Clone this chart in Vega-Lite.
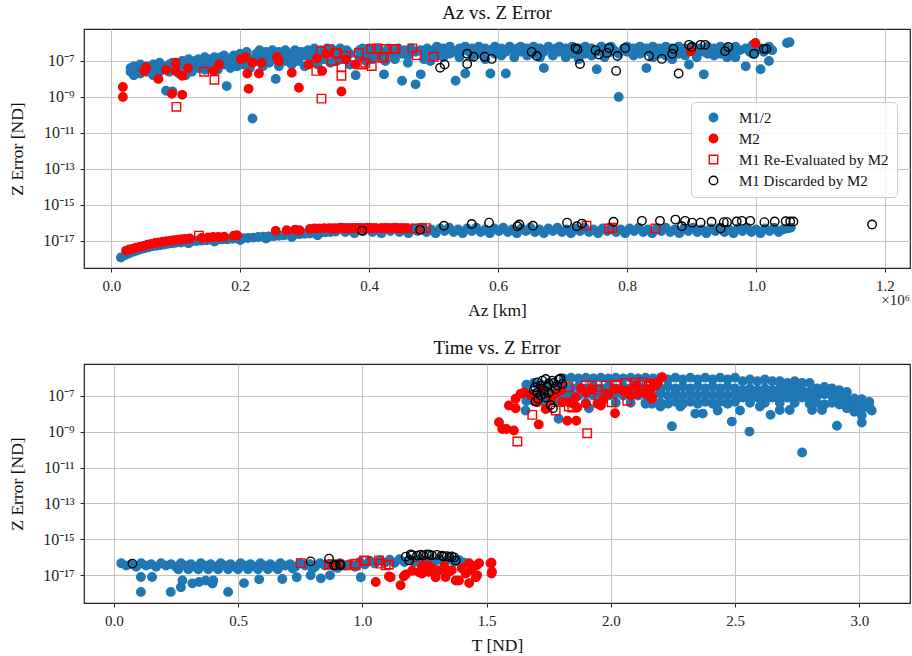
{
"$schema": "https://vega.github.io/schema/vega-lite/v6.json",
"background": "white",
"padding": {"left": 8, "top": 3, "right": 1, "bottom": 2},
"bounds": "flush",
"spacing": 96,
"config": {
  "font": "Liberation Serif",
  "view": {"stroke": "#222", "strokeWidth": 1.2},
  "axis": {"grid": true, "gridColor": "#c4c4c4", "gridWidth": 1, "domain": false, "tickColor": "#222", "tickSize": 4, "tickWidth": 1, "labelFont": "Liberation Serif", "labelFontSize": 15, "labelColor": "#222", "labelPadding": 6, "titleFont": "Liberation Serif", "titleFontSize": 17.5, "titleFontWeight": "normal", "titleColor": "#111", "titlePadding": 8},
  "axisY": {"labelFontSize": 16, "titlePadding": 16},
  "title": {"font": "Liberation Serif", "fontSize": 19, "fontWeight": "normal", "color": "#111", "offset": 6},
  "legend": {"orient": "none", "legendX": 607, "legendY": 73, "padding": 8, "fillColor": "rgba(255,255,255,0.85)", "strokeColor": "#cccccc", "cornerRadius": 4, "labelFont": "Liberation Serif", "labelFontSize": 15, "labelColor": "#111", "symbolOffset": 7, "labelOffset": 18, "rowPadding": 5, "symbolStrokeWidth": 1.4}
},
"resolve": {"scale": {"fill": "independent", "stroke": "independent", "shape": "independent", "size": "independent"}, "legend": {"fill": "independent", "stroke": "independent", "shape": "independent", "size": "independent"}},
"datasets": {
"az": [
{"s":"B","x":30000,"y":4e-8},{"s":"B","x":30000,"y":2.5e-8},{"s":"B","x":35000,"y":5e-8},{"s":"B","x":35000,"y":1.6e-8},{"s":"B","x":40000,"y":3.2e-8},{"s":"B","x":45000,"y":6.3e-8},{"s":"B","x":45000,"y":2e-8},{"s":"B","x":50000,"y":4e-8},{"s":"B","x":55000,"y":5e-8},{"s":"B","x":55000,"y":2.5e-8},{"s":"B","x":60000,"y":3.2e-8},{"s":"B","x":65000,"y":6.3e-8},{"s":"B","x":65000,"y":1.6e-8},{"s":"B","x":70000,"y":5e-8},{"s":"B","x":75000,"y":7.9e-8},{"s":"B","x":75000,"y":2.5e-8},{"s":"B","x":80000,"y":4e-8},{"s":"B","x":85000,"y":5e-8},{"s":"B","x":85000,"y":2.2e-9},{"s":"B","x":90000,"y":6.3e-8},{"s":"B","x":90000,"y":2.5e-8},{"s":"B","x":95000,"y":2e-9},{"s":"B","x":95000,"y":7.9e-8},{"s":"B","x":100000,"y":4e-8},{"s":"B","x":105000,"y":6.3e-8},{"s":"B","x":105000,"y":2e-8},{"s":"B","x":110000,"y":1e-7},{"s":"B","x":115000,"y":5e-8},{"s":"B","x":115000,"y":1.6e-8},{"s":"B","x":120000,"y":1.26e-7},{"s":"B","x":125000,"y":6.3e-8},{"s":"B","x":125000,"y":2.5e-8},{"s":"B","x":130000,"y":1e-7},{"s":"B","x":135000,"y":1.26e-7},{"s":"B","x":135000,"y":4e-8},{"s":"B","x":140000,"y":7.9e-8},{"s":"B","x":145000,"y":1.6e-7},{"s":"B","x":145000,"y":3.2e-8},{"s":"B","x":150000,"y":1e-7},{"s":"B","x":155000,"y":1.26e-7},{"s":"B","x":155000,"y":5e-8},{"s":"B","x":160000,"y":1.6e-7},{"s":"B","x":165000,"y":7.9e-8},{"s":"B","x":165000,"y":3.2e-8},{"s":"B","x":170000,"y":1.6e-7},{"s":"B","x":175000,"y":2e-7},{"s":"B","x":175000,"y":6.3e-8},{"s":"B","x":179000,"y":4e-9},{"s":"B","x":185000,"y":1.26e-7},{"s":"B","x":185000,"y":4e-8},{"s":"B","x":190000,"y":2e-7},{"s":"B","x":195000,"y":1e-7},{"s":"B","x":195000,"y":5e-8},{"s":"B","x":200000,"y":2.5e-7},{"s":"B","x":205000,"y":1.6e-7},{"s":"B","x":205000,"y":6.3e-8},{"s":"B","x":210000,"y":3.2e-7},{"s":"B","x":215000,"y":1.26e-7},{"s":"B","x":215000,"y":4e-8},{"s":"B","x":219000,"y":6.3e-11},{"s":"B","x":225000,"y":2.5e-7},{"s":"B","x":225000,"y":1e-7},{"s":"B","x":230000,"y":4e-7},{"s":"B","x":235000,"y":1.6e-7},{"s":"B","x":235000,"y":5e-8},{"s":"B","x":240000,"y":3.2e-7},{"s":"B","x":245000,"y":2e-7},{"s":"B","x":245000,"y":7.9e-8},{"s":"B","x":250000,"y":4e-7},{"s":"B","x":255000,"y":1e-8},{"s":"B","x":255000,"y":1.26e-7},{"s":"B","x":260000,"y":3.2e-7},{"s":"B","x":260000,"y":5e-8},{"s":"B","x":265000,"y":2e-7},{"s":"B","x":270000,"y":4e-7},{"s":"B","x":270000,"y":1e-7},{"s":"B","x":275000,"y":2.5e-7},{"s":"B","x":280000,"y":1.6e-7},{"s":"B","x":280000,"y":6.3e-8},{"s":"B","x":285000,"y":4e-7},{"s":"B","x":290000,"y":2.5e-7},{"s":"B","x":290000,"y":1e-7},{"s":"B","x":295000,"y":3.2e-7},{"s":"B","x":300000,"y":2e-7},{"s":"B","x":300000,"y":5e-8},{"s":"B","x":305000,"y":4e-7},{"s":"B","x":310000,"y":2.5e-7},{"s":"B","x":310000,"y":1e-7},{"s":"B","x":315000,"y":5e-7},{"s":"B","x":320000,"y":2e-7},{"s":"B","x":320000,"y":6.3e-8},{"s":"B","x":325000,"y":4e-7},{"s":"B","x":330000,"y":2.5e-7},{"s":"B","x":330000,"y":1.26e-7},{"s":"B","x":335000,"y":5e-7},{"s":"B","x":340000,"y":3.2e-7},{"s":"B","x":340000,"y":7.9e-8},{"s":"B","x":345000,"y":4e-7},{"s":"B","x":350000,"y":2e-7},{"s":"B","x":350000,"y":1e-7},{"s":"B","x":355000,"y":5e-7},{"s":"B","x":360000,"y":3.2e-7},{"s":"B","x":360000,"y":1.26e-7},{"s":"B","x":365000,"y":4e-7},{"s":"B","x":370000,"y":2.5e-7},{"s":"B","x":370000,"y":6.3e-8},{"s":"B","x":379000,"y":1.6e-8},{"s":"B","x":385000,"y":4e-7},{"s":"B","x":385000,"y":1.6e-7},{"s":"B","x":390000,"y":5e-7},{"s":"B","x":395000,"y":2.5e-7},{"s":"B","x":395000,"y":1e-7},{"s":"B","x":400000,"y":5e-7},{"s":"B","x":405000,"y":3.2e-7},{"s":"B","x":405000,"y":1.26e-7},{"s":"B","x":410000,"y":4e-7},{"s":"B","x":415000,"y":5e-7},{"s":"B","x":415000,"y":2e-7},{"s":"B","x":423000,"y":1.8e-8},{"s":"B","x":425000,"y":3.2e-7},{"s":"B","x":425000,"y":1e-7},{"s":"B","x":430000,"y":5e-7},{"s":"B","x":435000,"y":2.5e-7},{"s":"B","x":440000,"y":4e-7},{"s":"B","x":440000,"y":1.26e-7},{"s":"B","x":445000,"y":5e-7},{"s":"B","x":451000,"y":7.9e-9},{"s":"B","x":451000,"y":2.5e-7},{"s":"B","x":455000,"y":4e-7},{"s":"B","x":460000,"y":2e-7},{"s":"B","x":460000,"y":7.9e-8},{"s":"B","x":465000,"y":5e-7},{"s":"B","x":472000,"y":5e-9},{"s":"B","x":472000,"y":3.2e-7},{"s":"B","x":480000,"y":1.8e-8},{"s":"B","x":480000,"y":4e-7},{"s":"B","x":485000,"y":2.5e-7},{"s":"B","x":485000,"y":1.26e-7},{"s":"B","x":490000,"y":5e-7},{"s":"B","x":495000,"y":3.2e-7},{"s":"B","x":495000,"y":1e-7},{"s":"B","x":500000,"y":4e-7},{"s":"B","x":505000,"y":6.3e-7},{"s":"B","x":505000,"y":2e-7},{"s":"B","x":510000,"y":3.2e-7},{"s":"B","x":515000,"y":5e-7},{"s":"B","x":515000,"y":1.6e-7},{"s":"B","x":520000,"y":4e-7},{"s":"B","x":525000,"y":6.3e-7},{"s":"B","x":525000,"y":2.5e-7},{"s":"B","x":534000,"y":7.9e-9},{"s":"B","x":534000,"y":3.2e-7},{"s":"B","x":540000,"y":5e-7},{"s":"B","x":540000,"y":1.6e-7},{"s":"B","x":545000,"y":4e-7},{"s":"B","x":549000,"y":2e-8},{"s":"B","x":549000,"y":6.3e-7},{"s":"B","x":555000,"y":3.2e-7},{"s":"B","x":560000,"y":5e-7},{"s":"B","x":560000,"y":2e-7},{"s":"B","x":565000,"y":4e-7},{"s":"B","x":570000,"y":6.3e-7},{"s":"B","x":570000,"y":2.5e-7},{"s":"B","x":575000,"y":3.2e-7},{"s":"B","x":580000,"y":5e-7},{"s":"B","x":580000,"y":1.26e-7},{"s":"B","x":588000,"y":2e-8},{"s":"B","x":588000,"y":4e-7},{"s":"B","x":595000,"y":6.3e-7},{"s":"B","x":595000,"y":2.5e-7},{"s":"B","x":600000,"y":4e-7},{"s":"B","x":605000,"y":5e-7},{"s":"B","x":605000,"y":2e-7},{"s":"B","x":612000,"y":2e-8},{"s":"B","x":612000,"y":3.2e-7},{"s":"B","x":618000,"y":6.3e-7},{"s":"B","x":625000,"y":4e-7},{"s":"B","x":625000,"y":1.6e-7},{"s":"B","x":630000,"y":5e-7},{"s":"B","x":635000,"y":3.2e-7},{"s":"B","x":635000,"y":6.3e-7},{"s":"B","x":640000,"y":4e-7},{"s":"B","x":645000,"y":5e-7},{"s":"B","x":645000,"y":2e-7},{"s":"B","x":650000,"y":3.2e-7},{"s":"B","x":655000,"y":6.3e-7},{"s":"B","x":655000,"y":2.5e-7},{"s":"B","x":660000,"y":4e-7},{"s":"B","x":665000,"y":5e-7},{"s":"B","x":665000,"y":1.6e-7},{"s":"B","x":671000,"y":4e-8},{"s":"B","x":671000,"y":3.2e-7},{"s":"B","x":678000,"y":6.3e-7},{"s":"B","x":685000,"y":4e-7},{"s":"B","x":685000,"y":2e-7},{"s":"B","x":690000,"y":5e-7},{"s":"B","x":695000,"y":3.2e-7},{"s":"B","x":695000,"y":6.3e-7},{"s":"B","x":700000,"y":4e-7},{"s":"B","x":705000,"y":5e-7},{"s":"B","x":705000,"y":1.6e-7},{"s":"B","x":710000,"y":3.2e-7},{"s":"B","x":715000,"y":6.3e-7},{"s":"B","x":715000,"y":2.5e-7},{"s":"B","x":720000,"y":4e-7},{"s":"B","x":725000,"y":5e-7},{"s":"B","x":725000,"y":1.26e-7},{"s":"B","x":730000,"y":3.2e-7},{"s":"B","x":735000,"y":6.3e-7},{"s":"B","x":735000,"y":2.5e-7},{"s":"B","x":740000,"y":4e-7},{"s":"B","x":745000,"y":5e-7},{"s":"B","x":745000,"y":2e-7},{"s":"B","x":753000,"y":3.5e-8},{"s":"B","x":753000,"y":3.2e-7},{"s":"B","x":760000,"y":6.3e-7},{"s":"B","x":765000,"y":4e-7},{"s":"B","x":765000,"y":1.6e-7},{"s":"B","x":770000,"y":5e-7},{"s":"B","x":775000,"y":3.2e-7},{"s":"B","x":775000,"y":6.3e-7},{"s":"B","x":780000,"y":4e-7},{"s":"B","x":787000,"y":1e-9},{"s":"B","x":787000,"y":2.5e-7},{"s":"B","x":795000,"y":5e-7},{"s":"B","x":800000,"y":3.2e-7},{"s":"B","x":800000,"y":6.3e-7},{"s":"B","x":805000,"y":4e-7},{"s":"B","x":810000,"y":5e-7},{"s":"B","x":810000,"y":2e-7},{"s":"B","x":815000,"y":3.2e-7},{"s":"B","x":820000,"y":6.3e-7},{"s":"B","x":820000,"y":2.5e-7},{"s":"B","x":825000,"y":4e-7},{"s":"B","x":830000,"y":4e-8},{"s":"B","x":830000,"y":5e-7},{"s":"B","x":835000,"y":3.2e-7},{"s":"B","x":840000,"y":6.3e-7},{"s":"B","x":840000,"y":1.6e-7},{"s":"B","x":845000,"y":4e-7},{"s":"B","x":850000,"y":5e-7},{"s":"B","x":850000,"y":2.5e-7},{"s":"B","x":855000,"y":3.2e-7},{"s":"B","x":860000,"y":6.3e-7},{"s":"B","x":860000,"y":2e-7},{"s":"B","x":865000,"y":4e-7},{"s":"B","x":870000,"y":5e-7},{"s":"B","x":870000,"y":1.26e-7},{"s":"B","x":875000,"y":3.2e-7},{"s":"B","x":880000,"y":6.3e-7},{"s":"B","x":880000,"y":2.5e-7},{"s":"B","x":885000,"y":4e-7},{"s":"B","x":890000,"y":5e-7},{"s":"B","x":890000,"y":2e-7},{"s":"B","x":896000,"y":6.3e-8},{"s":"B","x":896000,"y":3.2e-7},{"s":"B","x":902000,"y":6.3e-7},{"s":"B","x":908000,"y":4e-7},{"s":"B","x":908000,"y":1.6e-7},{"s":"B","x":913000,"y":5e-7},{"s":"B","x":919000,"y":1.8e-8},{"s":"B","x":919000,"y":3.2e-7},{"s":"B","x":925000,"y":6.3e-7},{"s":"B","x":925000,"y":2.5e-7},{"s":"B","x":930000,"y":4e-7},{"s":"B","x":935000,"y":5e-7},{"s":"B","x":935000,"y":2e-7},{"s":"B","x":940000,"y":3.2e-7},{"s":"B","x":945000,"y":6.3e-7},{"s":"B","x":945000,"y":2.5e-7},{"s":"B","x":950000,"y":4e-7},{"s":"B","x":955000,"y":5e-7},{"s":"B","x":955000,"y":1.6e-7},{"s":"B","x":960000,"y":3.2e-7},{"s":"B","x":968000,"y":1.6e-7},{"s":"B","x":968000,"y":6.3e-7},{"s":"B","x":975000,"y":4e-7},{"s":"B","x":984000,"y":5e-8},{"s":"B","x":984000,"y":5e-7},{"s":"B","x":990000,"y":3.2e-7},{"s":"B","x":995000,"y":7.9e-7},{"s":"B","x":995000,"y":2.5e-7},{"s":"B","x":1000000,"y":4e-7},{"s":"B","x":1007000,"y":3.5e-8},{"s":"B","x":1007000,"y":5e-7},{"s":"B","x":1012000,"y":3.2e-7},{"s":"B","x":1020000,"y":1e-7},{"s":"B","x":1020000,"y":6.3e-7},{"s":"B","x":1025000,"y":4e-7},{"s":"B","x":1048000,"y":1e-6},{"s":"B","x":1052000,"y":1.1e-6},
{"s":"B","x":15000,"y":1.15e-18},{"s":"B","x":22000,"y":1.6e-18},{"s":"B","x":28000,"y":2e-18},{"s":"B","x":34000,"y":2.4e-18},{"s":"B","x":40000,"y":2.8e-18},{"s":"B","x":46000,"y":3.3e-18},{"s":"B","x":52000,"y":3.8e-18},{"s":"B","x":58000,"y":4.3e-18},{"s":"B","x":64000,"y":4.8e-18},{"s":"B","x":70000,"y":5.2e-18},{"s":"B","x":76000,"y":5.6e-18},{"s":"B","x":82000,"y":6e-18},{"s":"B","x":88000,"y":6.6e-18},{"s":"B","x":94000,"y":7.1e-18},{"s":"B","x":100000,"y":7.6e-18},{"s":"B","x":108000,"y":7.9e-18},{"s":"B","x":116000,"y":8.5e-18},{"s":"B","x":120000,"y":7.1e-18},{"s":"B","x":124000,"y":8.9e-18},{"s":"B","x":132000,"y":9.5e-18},{"s":"B","x":140000,"y":1e-17},{"s":"B","x":148000,"y":1.05e-17},{"s":"B","x":156000,"y":1.1e-17},{"s":"B","x":160000,"y":8.9e-18},{"s":"B","x":164000,"y":1.12e-17},{"s":"B","x":172000,"y":1.17e-17},{"s":"B","x":180000,"y":1.2e-17},{"s":"B","x":188000,"y":1.26e-17},{"s":"B","x":196000,"y":1.32e-17},{"s":"B","x":200000,"y":1.07e-17},{"s":"B","x":204000,"y":1.35e-17},{"s":"B","x":212000,"y":1.41e-17},{"s":"B","x":220000,"y":1.48e-17},{"s":"B","x":228000,"y":1.58e-17},{"s":"B","x":236000,"y":1.66e-17},{"s":"B","x":240000,"y":1.32e-17},{"s":"B","x":244000,"y":1.7e-17},{"s":"B","x":252000,"y":1.78e-17},{"s":"B","x":260000,"y":1.86e-17},{"s":"B","x":268000,"y":2e-17},{"s":"B","x":276000,"y":2.1e-17},{"s":"B","x":280000,"y":1.58e-17},{"s":"B","x":284000,"y":2.2e-17},{"s":"B","x":292000,"y":2.3e-17},{"s":"B","x":300000,"y":2.4e-17},{"s":"B","x":308000,"y":2.5e-17},{"s":"B","x":316000,"y":2.6e-17},{"s":"B","x":320000,"y":2e-17},{"s":"B","x":324000,"y":2.75e-17},{"s":"B","x":332000,"y":2.9e-17},{"s":"B","x":340000,"y":3e-17},{"s":"B","x":348000,"y":3.2e-17},
{"s":"B","x":356000,"y":5.3e-17},{"s":"B","x":363000,"y":3e-17},{"s":"B","x":370000,"y":4.2e-17},{"s":"B","x":377000,"y":2.6e-17},{"s":"B","x":384000,"y":4.8e-17},{"s":"B","x":391000,"y":3.4e-17},{"s":"B","x":398000,"y":5.3e-17},{"s":"B","x":405000,"y":3e-17},{"s":"B","x":412000,"y":4.2e-17},{"s":"B","x":419000,"y":2.6e-17},{"s":"B","x":426000,"y":4.8e-17},{"s":"B","x":433000,"y":3.4e-17},{"s":"B","x":440000,"y":5.3e-17},{"s":"B","x":447000,"y":3e-17},{"s":"B","x":454000,"y":4.2e-17},{"s":"B","x":461000,"y":2.6e-17},{"s":"B","x":468000,"y":4.8e-17},{"s":"B","x":475000,"y":3.4e-17},{"s":"B","x":482000,"y":5.3e-17},{"s":"B","x":489000,"y":3e-17},{"s":"B","x":496000,"y":4.2e-17},{"s":"B","x":503000,"y":2.6e-17},{"s":"B","x":510000,"y":4.8e-17},{"s":"B","x":517000,"y":3.4e-17},{"s":"B","x":524000,"y":5.3e-17},{"s":"B","x":531000,"y":3e-17},{"s":"B","x":538000,"y":4.2e-17},{"s":"B","x":545000,"y":2.6e-17},{"s":"B","x":552000,"y":4.8e-17},{"s":"B","x":559000,"y":3.4e-17},{"s":"B","x":566000,"y":5.3e-17},{"s":"B","x":573000,"y":3e-17},{"s":"B","x":580000,"y":4.2e-17},{"s":"B","x":587000,"y":2.6e-17},{"s":"B","x":594000,"y":4.8e-17},{"s":"B","x":601000,"y":3.4e-17},{"s":"B","x":608000,"y":5.3e-17},{"s":"B","x":615000,"y":3e-17},{"s":"B","x":622000,"y":4.2e-17},{"s":"B","x":629000,"y":2.6e-17},{"s":"B","x":636000,"y":4.8e-17},{"s":"B","x":643000,"y":3.4e-17},{"s":"B","x":650000,"y":5.3e-17},{"s":"B","x":657000,"y":3e-17},{"s":"B","x":664000,"y":4.2e-17},{"s":"B","x":671000,"y":2.6e-17},{"s":"B","x":678000,"y":4.8e-17},{"s":"B","x":685000,"y":3.4e-17},{"s":"B","x":692000,"y":5.3e-17},{"s":"B","x":699000,"y":3e-17},{"s":"B","x":706000,"y":4.2e-17},{"s":"B","x":713000,"y":2.6e-17},{"s":"B","x":720000,"y":4.8e-17},{"s":"B","x":727000,"y":3.4e-17},{"s":"B","x":734000,"y":5.3e-17},{"s":"B","x":741000,"y":3e-17},{"s":"B","x":748000,"y":4.2e-17},{"s":"B","x":755000,"y":2.6e-17},{"s":"B","x":762000,"y":4.8e-17},{"s":"B","x":769000,"y":3.4e-17},{"s":"B","x":776000,"y":5.3e-17},{"s":"B","x":783000,"y":3e-17},{"s":"B","x":790000,"y":4.2e-17},{"s":"B","x":797000,"y":2.6e-17},{"s":"B","x":804000,"y":4.8e-17},{"s":"B","x":811000,"y":3.4e-17},{"s":"B","x":818000,"y":5.3e-17},{"s":"B","x":825000,"y":3e-17},{"s":"B","x":832000,"y":4.2e-17},{"s":"B","x":839000,"y":2.6e-17},{"s":"B","x":846000,"y":4.8e-17},{"s":"B","x":853000,"y":3.4e-17},{"s":"B","x":860000,"y":5.3e-17},{"s":"B","x":867000,"y":3e-17},{"s":"B","x":874000,"y":4.2e-17},{"s":"B","x":881000,"y":2.6e-17},{"s":"B","x":888000,"y":4.8e-17},{"s":"B","x":895000,"y":3.4e-17},{"s":"B","x":902000,"y":5.3e-17},{"s":"B","x":909000,"y":3e-17},{"s":"B","x":916000,"y":4.2e-17},{"s":"B","x":923000,"y":2.6e-17},{"s":"B","x":930000,"y":4.8e-17},{"s":"B","x":937000,"y":3.4e-17},{"s":"B","x":944000,"y":5.3e-17},{"s":"B","x":951000,"y":3e-17},{"s":"B","x":958000,"y":4.2e-17},{"s":"B","x":965000,"y":2.6e-17},{"s":"B","x":972000,"y":4.8e-17},{"s":"B","x":979000,"y":3.4e-17},{"s":"B","x":986000,"y":5.3e-17},{"s":"B","x":993000,"y":3e-17},{"s":"B","x":1000000,"y":4.2e-17},{"s":"B","x":1007000,"y":2.6e-17},{"s":"B","x":1014000,"y":4.8e-17},{"s":"B","x":1021000,"y":3.4e-17},{"s":"B","x":1028000,"y":5.3e-17},{"s":"B","x":1035000,"y":3e-17},{"s":"B","x":1042000,"y":4.2e-17},{"s":"B","x":1049000,"y":4.8e-17},{"s":"B","x":1054000,"y":5.3e-17},
{"s":"R","x":18000,"y":3.6e-9},{"s":"R","x":18000,"y":1e-9},{"s":"R","x":54000,"y":4.3e-8},{"s":"R","x":51000,"y":2.8e-8},{"s":"R","x":73000,"y":1e-8},{"s":"R","x":85000,"y":3.2e-8},{"s":"R","x":100000,"y":7.9e-8},{"s":"R","x":100000,"y":2.8e-8},{"s":"R","x":94000,"y":1.5e-9},{"s":"R","x":110000,"y":1.3e-9},{"s":"R","x":110000,"y":1.5e-8},{"s":"R","x":119000,"y":4e-8},{"s":"R","x":159000,"y":2.8e-8},{"s":"R","x":167000,"y":6.3e-8},{"s":"R","x":201000,"y":1.26e-7},{"s":"R","x":208000,"y":1.6e-7},{"s":"R","x":211000,"y":2e-8},{"s":"R","x":213000,"y":2.8e-9},{"s":"R","x":219000,"y":7.9e-8},{"s":"R","x":229000,"y":2e-8},{"s":"R","x":233000,"y":7.9e-8},{"s":"R","x":257000,"y":1.6e-7},{"s":"R","x":260000,"y":1e-7},{"s":"R","x":280000,"y":2.2e-8},{"s":"R","x":291000,"y":3.2e-9},{"s":"R","x":306000,"y":6.3e-8},{"s":"R","x":319000,"y":1.4e-7},{"s":"R","x":327000,"y":2.8e-8},{"s":"R","x":333000,"y":2.5e-7},{"s":"R","x":357000,"y":2e-9},{"s":"R","x":364000,"y":1.26e-7},{"s":"R","x":379000,"y":6.3e-8},{"s":"R","x":899000,"y":3.5e-7},{"s":"R","x":999000,"y":1e-6},
{"s":"R","x":23000,"y":2.8e-18},{"s":"R","x":28000,"y":3.2e-18},{"s":"R","x":33000,"y":3.5e-18},{"s":"R","x":38000,"y":4e-18},{"s":"R","x":44000,"y":4.5e-18},{"s":"R","x":50000,"y":5e-18},{"s":"R","x":56000,"y":6e-18},{"s":"R","x":62000,"y":6.6e-18},{"s":"R","x":68000,"y":7.4e-18},{"s":"R","x":74000,"y":7.9e-18},{"s":"R","x":80000,"y":8.7e-18},{"s":"R","x":86000,"y":9.3e-18},{"s":"R","x":92000,"y":1e-17},{"s":"R","x":98000,"y":1.07e-17},{"s":"R","x":104000,"y":1.12e-17},{"s":"R","x":110000,"y":1.2e-17},{"s":"R","x":116000,"y":1.26e-17},{"s":"R","x":122000,"y":1.32e-17},{"s":"R","x":140000,"y":1.41e-17},{"s":"R","x":150000,"y":1.5e-17},{"s":"R","x":158000,"y":1.58e-17},{"s":"R","x":166000,"y":1.58e-17},{"s":"R","x":175000,"y":1.66e-17},{"s":"R","x":190000,"y":1.9e-17},{"s":"R","x":195000,"y":2e-17},{"s":"R","x":255000,"y":3.5e-17},{"s":"R","x":272000,"y":3.8e-17},{"s":"R","x":285000,"y":4e-17},{"s":"R","x":292000,"y":3.8e-17},{"s":"R","x":308000,"y":4.5e-17},{"s":"R","x":315000,"y":4.7e-17},{"s":"R","x":322000,"y":4.8e-17},{"s":"R","x":330000,"y":5e-17},{"s":"R","x":338000,"y":5e-17},{"s":"R","x":346000,"y":4.8e-17},{"s":"R","x":354000,"y":5e-17},{"s":"R","x":362000,"y":5e-17},{"s":"R","x":370000,"y":4.8e-17},{"s":"R","x":378000,"y":5e-17},{"s":"R","x":386000,"y":5e-17},{"s":"R","x":394000,"y":4.8e-17},{"s":"R","x":402000,"y":5e-17},{"s":"R","x":410000,"y":5e-17},{"s":"R","x":418000,"y":5e-17},{"s":"R","x":426000,"y":5e-17},{"s":"R","x":434000,"y":4.8e-17},{"s":"R","x":442000,"y":5e-17},{"s":"R","x":450000,"y":5e-17},{"s":"R","x":458000,"y":4.8e-17},
{"s":"S","x":144000,"y":2.5e-8},{"s":"S","x":160000,"y":9e-9},{"s":"S","x":101000,"y":2.8e-10},{"s":"S","x":318000,"y":2.8e-8},{"s":"S","x":326000,"y":8e-10},{"s":"S","x":325000,"y":3.5e-7},{"s":"S","x":338000,"y":4.5e-7},{"s":"S","x":342000,"y":1e-7},{"s":"S","x":348000,"y":2.8e-7},{"s":"S","x":350000,"y":2.5e-7},{"s":"S","x":357000,"y":4.7e-8},{"s":"S","x":357000,"y":1.5e-8},{"s":"S","x":364000,"y":1.9e-7},{"s":"S","x":384000,"y":2.8e-7},{"s":"S","x":389000,"y":6.3e-8},{"s":"S","x":394000,"y":8e-8},{"s":"S","x":403000,"y":4.6e-7},{"s":"S","x":404000,"y":5.2e-8},{"s":"S","x":412000,"y":5e-7},{"s":"S","x":420000,"y":1.5e-7},{"s":"S","x":423000,"y":1.6e-7},{"s":"S","x":426000,"y":4.6e-7},{"s":"S","x":438000,"y":4.6e-7},{"s":"S","x":441000,"y":4.6e-7},{"s":"S","x":467000,"y":5e-7},{"s":"S","x":474000,"y":2.1e-7},{"s":"S","x":500000,"y":1.7e-7},
{"s":"S","x":136000,"y":1.9e-17},{"s":"S","x":348000,"y":4.7e-17},{"s":"S","x":360000,"y":5e-17},{"s":"S","x":372000,"y":5e-17},{"s":"S","x":380000,"y":5e-17},{"s":"S","x":390000,"y":5e-17},{"s":"S","x":405000,"y":5e-17},{"s":"S","x":425000,"y":5e-17},{"s":"S","x":440000,"y":5e-17},{"s":"S","x":455000,"y":5e-17},{"s":"S","x":472000,"y":4.7e-17},{"s":"S","x":482000,"y":5e-17},{"s":"S","x":488000,"y":5e-17},{"s":"S","x":737000,"y":6.8e-17},{"s":"S","x":772000,"y":4.7e-17},{"s":"S","x":777000,"y":5.2e-17},{"s":"S","x":844000,"y":4.7e-17},
{"s":"K","x":510000,"y":4.2e-8},{"s":"K","x":517000,"y":6.3e-8},{"s":"K","x":552000,"y":2.5e-7},{"s":"K","x":552000,"y":6.8e-8},{"s":"K","x":562000,"y":1.7e-7},{"s":"K","x":579000,"y":1.7e-7},{"s":"K","x":590000,"y":1.3e-7},{"s":"K","x":652000,"y":3.2e-7},{"s":"K","x":660000,"y":1.9e-7},{"s":"K","x":720000,"y":5.2e-7},{"s":"K","x":723000,"y":4.5e-7},{"s":"K","x":727000,"y":6.8e-8},{"s":"K","x":751000,"y":4e-7},{"s":"K","x":756000,"y":2.3e-7},{"s":"K","x":769000,"y":2.8e-7},{"s":"K","x":772000,"y":5.2e-7},{"s":"K","x":783000,"y":2.8e-8},{"s":"K","x":785000,"y":1.9e-7},{"s":"K","x":797000,"y":5.2e-7},{"s":"K","x":834000,"y":1.9e-7},{"s":"K","x":854000,"y":1.3e-7},{"s":"K","x":870000,"y":2.5e-7},{"s":"K","x":872000,"y":4.7e-7},{"s":"K","x":880000,"y":2e-8},{"s":"K","x":896000,"y":7.9e-7},{"s":"K","x":900000,"y":6e-7},{"s":"K","x":914000,"y":7.9e-7},{"s":"K","x":921000,"y":7.9e-7},{"s":"K","x":952000,"y":3.5e-7},{"s":"K","x":957000,"y":6e-7},{"s":"K","x":997000,"y":2.5e-7},{"s":"K","x":1012000,"y":4.7e-7},{"s":"K","x":1016000,"y":4.7e-7},
{"s":"K","x":389000,"y":3.6e-17},{"s":"K","x":479000,"y":4e-17},{"s":"K","x":516000,"y":6.8e-17},{"s":"K","x":559000,"y":8.5e-17},{"s":"K","x":586000,"y":1e-16},{"s":"K","x":630000,"y":6.3e-17},{"s":"K","x":633000,"y":7.9e-17},{"s":"K","x":654000,"y":6.8e-17},{"s":"K","x":707000,"y":1e-16},{"s":"K","x":722000,"y":6.3e-17},{"s":"K","x":730000,"y":8.9e-17},{"s":"K","x":779000,"y":1.12e-16},{"s":"K","x":823000,"y":1.26e-16},{"s":"K","x":851000,"y":1.26e-16},{"s":"K","x":875000,"y":1.48e-16},{"s":"K","x":885000,"y":6.3e-17},{"s":"K","x":890000,"y":1.26e-16},{"s":"K","x":901000,"y":1e-16},{"s":"K","x":914000,"y":1e-16},{"s":"K","x":931000,"y":1.12e-16},{"s":"K","x":945000,"y":4.7e-17},{"s":"K","x":950000,"y":1.07e-16},{"s":"K","x":955000,"y":1.07e-16},{"s":"K","x":970000,"y":1.17e-16},{"s":"K","x":978000,"y":1.26e-16},{"s":"K","x":991000,"y":1.26e-16},{"s":"K","x":1013000,"y":1.07e-16},{"s":"K","x":1029000,"y":1.17e-16},{"s":"K","x":1046000,"y":1.2e-16},{"s":"K","x":1053000,"y":1.17e-16},{"s":"K","x":1058000,"y":1.17e-16},{"s":"K","x":1180000,"y":7.9e-17}
],
"t": [
{"s":"B","x":0.03,"y":4.7e-17},{"s":"B","x":0.05,"y":3.5e-17},{"s":"B","x":0.07,"y":4.2e-17},{"s":"B","x":0.09,"y":3e-17},{"s":"B","x":0.11,"y":4.7e-17},{"s":"B","x":0.13,"y":3.5e-17},{"s":"B","x":0.15,"y":4.2e-17},{"s":"B","x":0.17,"y":3e-17},{"s":"B","x":0.19,"y":4.7e-17},{"s":"B","x":0.21,"y":3.5e-17},{"s":"B","x":0.23,"y":4.2e-17},{"s":"B","x":0.25,"y":3e-17},{"s":"B","x":0.27,"y":4.7e-17},{"s":"B","x":0.29,"y":3.5e-17},{"s":"B","x":0.31,"y":4.2e-17},{"s":"B","x":0.33,"y":3e-17},{"s":"B","x":0.35,"y":4.7e-17},{"s":"B","x":0.37,"y":3.5e-17},{"s":"B","x":0.39,"y":4.2e-17},{"s":"B","x":0.41,"y":3e-17},{"s":"B","x":0.43,"y":4.7e-17},{"s":"B","x":0.45,"y":3.5e-17},{"s":"B","x":0.47,"y":4.2e-17},{"s":"B","x":0.49,"y":3e-17},{"s":"B","x":0.51,"y":4.7e-17},{"s":"B","x":0.53,"y":3.5e-17},{"s":"B","x":0.55,"y":4.2e-17},{"s":"B","x":0.57,"y":3e-17},{"s":"B","x":0.59,"y":4.7e-17},{"s":"B","x":0.61,"y":3.5e-17},{"s":"B","x":0.63,"y":4.2e-17},{"s":"B","x":0.65,"y":3e-17},{"s":"B","x":0.67,"y":4.7e-17},{"s":"B","x":0.69,"y":3.5e-17},{"s":"B","x":0.71,"y":4.2e-17},{"s":"B","x":0.73,"y":3e-17},{"s":"B","x":0.75,"y":4.7e-17},{"s":"B","x":0.77,"y":3.5e-17},{"s":"B","x":0.79,"y":4.2e-17},{"s":"B","x":0.81,"y":3e-17},{"s":"B","x":0.83,"y":4.7e-17},{"s":"B","x":0.85,"y":3.5e-17},{"s":"B","x":0.87,"y":4.2e-17},{"s":"B","x":0.89,"y":3e-17},{"s":"B","x":0.91,"y":4.7e-17},{"s":"B","x":0.93,"y":3.5e-17},{"s":"B","x":0.95,"y":4.2e-17},{"s":"B","x":0.97,"y":3e-17},{"s":"B","x":0.99,"y":5.5e-17},{"s":"B","x":1.01,"y":4e-17},{"s":"B","x":1.03,"y":6.5e-17},{"s":"B","x":1.05,"y":4.5e-17},{"s":"B","x":1.07,"y":7e-17},{"s":"B","x":1.09,"y":5e-17},{"s":"B","x":1.11,"y":7.5e-17},{"s":"B","x":1.13,"y":5e-17},{"s":"B","x":1.15,"y":8e-17},{"s":"B","x":1.17,"y":5.5e-17},{"s":"B","x":1.19,"y":8e-17},{"s":"B","x":1.21,"y":5.5e-17},{"s":"B","x":1.23,"y":8e-17},{"s":"B","x":1.25,"y":5.5e-17},{"s":"B","x":1.27,"y":8e-17},{"s":"B","x":1.29,"y":5.5e-17},{"s":"B","x":1.31,"y":8e-17},{"s":"B","x":1.33,"y":5.5e-17},{"s":"B","x":1.35,"y":8e-17},{"s":"B","x":1.37,"y":5.5e-17},{"s":"B","x":1.39,"y":7e-17},{"s":"B","x":1.41,"y":5e-17},
{"s":"B","x":0.26,"y":2.2e-17},{"s":"B","x":0.3,"y":2.2e-17},{"s":"B","x":0.34,"y":2.2e-17},{"s":"B","x":0.38,"y":2.2e-17},{"s":"B","x":0.42,"y":2.2e-17},{"s":"B","x":0.46,"y":2.2e-17},{"s":"B","x":0.5,"y":2.2e-17},{"s":"B","x":0.54,"y":2.2e-17},{"s":"B","x":0.58,"y":2.2e-17},{"s":"B","x":0.62,"y":2.2e-17},{"s":"B","x":0.66,"y":2.2e-17},{"s":"B","x":0.72,"y":2.4e-17},{"s":"B","x":0.8,"y":2.4e-17},{"s":"B","x":0.9,"y":2.6e-17},
{"s":"B","x":0.109,"y":8.1e-18},{"s":"B","x":0.154,"y":8.1e-18},{"s":"B","x":0.109,"y":1.2e-18},{"s":"B","x":0.229,"y":1.2e-18},{"s":"B","x":0.46,"y":1.2e-18},{"s":"B","x":0.27,"y":2.2e-18},{"s":"B","x":0.276,"y":5.2e-18},{"s":"B","x":0.316,"y":3.6e-18},{"s":"B","x":0.343,"y":4.3e-18},{"s":"B","x":0.37,"y":5.2e-18},{"s":"B","x":0.397,"y":3.5e-18},{"s":"B","x":0.4,"y":5.2e-18},{"s":"B","x":0.524,"y":3.7e-18},{"s":"B","x":0.585,"y":6e-18},{"s":"B","x":0.678,"y":6.3e-18},{"s":"B","x":0.736,"y":7.9e-18},{"s":"B","x":0.792,"y":1e-17},{"s":"B","x":0.833,"y":6.8e-18},{"s":"B","x":0.87,"y":1e-17},{"s":"B","x":0.994,"y":7.9e-18},
{"s":"B","x":1.66,"y":4e-7},{"s":"B","x":1.66,"y":1.26e-7},{"s":"B","x":1.66,"y":5e-8},{"s":"B","x":1.69,"y":5e-7},{"s":"B","x":1.69,"y":1.26e-7},{"s":"B","x":1.69,"y":5e-8},{"s":"B","x":1.72,"y":4e-7},{"s":"B","x":1.72,"y":1.26e-7},{"s":"B","x":1.72,"y":5e-8},{"s":"B","x":1.75,"y":5e-7},{"s":"B","x":1.75,"y":1.26e-7},{"s":"B","x":1.75,"y":5e-8},{"s":"B","x":1.78,"y":4e-7},{"s":"B","x":1.78,"y":1.26e-7},{"s":"B","x":1.78,"y":5e-8},
{"s":"B","x":1.81,"y":8.9e-7},{"s":"B","x":1.81,"y":3.2e-7},{"s":"B","x":1.81,"y":1e-7},{"s":"B","x":1.84,"y":1e-6},{"s":"B","x":1.84,"y":2.5e-7},{"s":"B","x":1.84,"y":1.3e-7},{"s":"B","x":1.84,"y":4e-8},{"s":"B","x":1.87,"y":8.9e-7},{"s":"B","x":1.87,"y":3.2e-7},{"s":"B","x":1.87,"y":1e-7},{"s":"B","x":1.9,"y":1e-6},{"s":"B","x":1.9,"y":2.5e-7},{"s":"B","x":1.9,"y":1.3e-7},{"s":"B","x":1.9,"y":4e-8},{"s":"B","x":1.93,"y":8.9e-7},{"s":"B","x":1.93,"y":3.2e-7},{"s":"B","x":1.93,"y":1e-7},{"s":"B","x":1.96,"y":1e-6},{"s":"B","x":1.96,"y":2.5e-7},{"s":"B","x":1.96,"y":1.3e-7},{"s":"B","x":1.96,"y":4e-8},{"s":"B","x":1.99,"y":8.9e-7},{"s":"B","x":1.99,"y":3.2e-7},{"s":"B","x":1.99,"y":1e-7},{"s":"B","x":2.02,"y":1e-6},{"s":"B","x":2.02,"y":2.5e-7},{"s":"B","x":2.02,"y":1.3e-7},{"s":"B","x":2.02,"y":4e-8},{"s":"B","x":2.05,"y":8.9e-7},{"s":"B","x":2.05,"y":3.2e-7},{"s":"B","x":2.05,"y":1e-7},{"s":"B","x":2.08,"y":1e-6},{"s":"B","x":2.08,"y":2.5e-7},{"s":"B","x":2.08,"y":1.3e-7},{"s":"B","x":2.08,"y":4e-8},{"s":"B","x":2.11,"y":8.9e-7},{"s":"B","x":2.11,"y":3.2e-7},{"s":"B","x":2.11,"y":1e-7},{"s":"B","x":2.14,"y":1e-6},{"s":"B","x":2.14,"y":2.5e-7},{"s":"B","x":2.14,"y":1.3e-7},{"s":"B","x":2.14,"y":4e-8},{"s":"B","x":2.17,"y":8.9e-7},{"s":"B","x":2.17,"y":3.2e-7},{"s":"B","x":2.17,"y":1e-7},{"s":"B","x":2.2,"y":1e-6},{"s":"B","x":2.2,"y":2.5e-7},{"s":"B","x":2.2,"y":1.3e-7},{"s":"B","x":2.2,"y":4e-8},
{"s":"B","x":2.23,"y":7.9e-7},{"s":"B","x":2.23,"y":3.2e-7},{"s":"B","x":2.23,"y":1e-7},{"s":"B","x":2.23,"y":3.5e-8},{"s":"B","x":2.26,"y":1e-6},{"s":"B","x":2.26,"y":2.5e-7},{"s":"B","x":2.26,"y":1.3e-7},{"s":"B","x":2.26,"y":4.5e-8},{"s":"B","x":2.29,"y":7.9e-7},{"s":"B","x":2.29,"y":3.2e-7},{"s":"B","x":2.29,"y":1e-7},{"s":"B","x":2.29,"y":3.5e-8},{"s":"B","x":2.32,"y":1e-6},{"s":"B","x":2.32,"y":2.5e-7},{"s":"B","x":2.32,"y":1.3e-7},{"s":"B","x":2.32,"y":4.5e-8},{"s":"B","x":2.35,"y":7.9e-7},{"s":"B","x":2.35,"y":3.2e-7},{"s":"B","x":2.35,"y":1e-7},{"s":"B","x":2.35,"y":3.5e-8},{"s":"B","x":2.38,"y":1e-6},{"s":"B","x":2.38,"y":2.5e-7},{"s":"B","x":2.38,"y":1.3e-7},{"s":"B","x":2.38,"y":4.5e-8},{"s":"B","x":2.41,"y":7.9e-7},{"s":"B","x":2.41,"y":3.2e-7},{"s":"B","x":2.41,"y":1e-7},{"s":"B","x":2.41,"y":3.5e-8},{"s":"B","x":2.44,"y":1e-6},{"s":"B","x":2.44,"y":2.5e-7},{"s":"B","x":2.44,"y":1.3e-7},{"s":"B","x":2.44,"y":4.5e-8},{"s":"B","x":2.47,"y":7.9e-7},{"s":"B","x":2.47,"y":3.2e-7},{"s":"B","x":2.47,"y":1e-7},{"s":"B","x":2.47,"y":3.5e-8},{"s":"B","x":2.5,"y":1e-6},{"s":"B","x":2.5,"y":2.5e-7},{"s":"B","x":2.5,"y":1.3e-7},{"s":"B","x":2.5,"y":4.5e-8},
{"s":"B","x":2.53,"y":6.3e-7},{"s":"B","x":2.53,"y":2e-7},{"s":"B","x":2.53,"y":7.9e-8},{"s":"B","x":2.56,"y":7.9e-7},{"s":"B","x":2.56,"y":2.5e-7},{"s":"B","x":2.56,"y":1e-7},{"s":"B","x":2.56,"y":4e-8},{"s":"B","x":2.59,"y":6.3e-7},{"s":"B","x":2.59,"y":2e-7},{"s":"B","x":2.59,"y":7.9e-8},{"s":"B","x":2.62,"y":7.9e-7},{"s":"B","x":2.62,"y":2.5e-7},{"s":"B","x":2.62,"y":1e-7},{"s":"B","x":2.62,"y":4e-8},{"s":"B","x":2.65,"y":6.3e-7},{"s":"B","x":2.65,"y":2e-7},{"s":"B","x":2.65,"y":7.9e-8},{"s":"B","x":2.68,"y":6.3e-7},{"s":"B","x":2.68,"y":2.5e-7},{"s":"B","x":2.68,"y":1e-7},{"s":"B","x":2.68,"y":4e-8},{"s":"B","x":2.71,"y":5e-7},{"s":"B","x":2.71,"y":2e-7},{"s":"B","x":2.71,"y":7.9e-8},{"s":"B","x":2.74,"y":6.3e-7},{"s":"B","x":2.74,"y":2.5e-7},{"s":"B","x":2.74,"y":1e-7},{"s":"B","x":2.74,"y":4e-8},{"s":"B","x":2.77,"y":5e-7},{"s":"B","x":2.77,"y":2e-7},{"s":"B","x":2.77,"y":7.9e-8},{"s":"B","x":2.8,"y":5e-7},{"s":"B","x":2.8,"y":1.6e-7},{"s":"B","x":2.8,"y":6.3e-8},{"s":"B","x":2.8,"y":3.5e-8},
{"s":"B","x":2.83,"y":2.5e-7},{"s":"B","x":2.83,"y":1e-7},{"s":"B","x":2.83,"y":4e-8},{"s":"B","x":2.86,"y":3e-7},{"s":"B","x":2.86,"y":1.2e-7},{"s":"B","x":2.86,"y":3.2e-8},{"s":"B","x":2.89,"y":2.5e-7},{"s":"B","x":2.89,"y":1e-7},{"s":"B","x":2.89,"y":4e-8},{"s":"B","x":2.92,"y":2e-7},{"s":"B","x":2.92,"y":8e-8},{"s":"B","x":2.92,"y":3.2e-8},{"s":"B","x":2.95,"y":1.6e-7},{"s":"B","x":2.95,"y":6.3e-8},{"s":"B","x":2.95,"y":3e-8},{"s":"B","x":2.98,"y":7e-8},{"s":"B","x":2.98,"y":3.2e-8},{"s":"B","x":2.98,"y":2e-8},{"s":"B","x":3.01,"y":6.3e-8},{"s":"B","x":3.01,"y":3.5e-8},{"s":"B","x":3.01,"y":2e-8},{"s":"B","x":3.04,"y":4.5e-8},{"s":"B","x":3.04,"y":2.5e-8},
{"s":"B","x":2.246,"y":2e-9},{"s":"B","x":2.487,"y":3.6e-9},{"s":"B","x":2.558,"y":1e-9},{"s":"B","x":2.77,"y":6.8e-11},{"s":"B","x":2.91,"y":2.1e-9},{"s":"B","x":3.01,"y":3.2e-9},{"s":"B","x":3.01,"y":7.9e-9},{"s":"B","x":3.05,"y":1.5e-8},{"s":"B","x":2.34,"y":1e-8},{"s":"B","x":2.37,"y":1e-8},{"s":"B","x":2.43,"y":1.5e-8},{"s":"B","x":2.52,"y":1.5e-8},{"s":"B","x":2.643,"y":8.5e-9},{"s":"B","x":2.68,"y":1.6e-8},{"s":"B","x":2.72,"y":1.6e-8},{"s":"B","x":2.81,"y":1.6e-8},{"s":"B","x":2.85,"y":1.6e-8},{"s":"B","x":2.166,"y":3.5e-8},{"s":"B","x":2.14,"y":3.5e-8},{"s":"B","x":1.79,"y":5.2e-9},{"s":"B","x":1.657,"y":1.5e-8},{"s":"B","x":1.912,"y":2e-8},{"s":"B","x":2.2,"y":2.5e-8},{"s":"B","x":2.28,"y":2.5e-8},{"s":"B","x":2.6,"y":2.5e-8},{"s":"B","x":2.95,"y":2e-8},{"s":"B","x":2.98,"y":1.26e-8},{"s":"B","x":3.04,"y":2e-8},
{"s":"R","x":1.054,"y":4.3e-18},{"s":"R","x":1.107,"y":8.7e-18},{"s":"R","x":1.114,"y":7.9e-18},{"s":"R","x":1.154,"y":2.8e-18},{"s":"R","x":1.167,"y":8.9e-18},{"s":"R","x":1.175,"y":1.12e-17},{"s":"R","x":1.2,"y":1.8e-17},{"s":"R","x":1.228,"y":1.5e-17},{"s":"R","x":1.24,"y":2.9e-17},{"s":"R","x":1.24,"y":1.26e-17},{"s":"R","x":1.26,"y":3.5e-17},{"s":"R","x":1.268,"y":1.6e-17},{"s":"R","x":1.28,"y":2.5e-17},{"s":"R","x":1.295,"y":7.9e-18},{"s":"R","x":1.31,"y":1.9e-17},{"s":"R","x":1.33,"y":3.2e-17},{"s":"R","x":1.335,"y":8.1e-18},{"s":"R","x":1.349,"y":1.6e-17},{"s":"R","x":1.36,"y":1.9e-17},{"s":"R","x":1.376,"y":5.2e-18},{"s":"R","x":1.389,"y":5.2e-18},{"s":"R","x":1.4,"y":2.5e-17},{"s":"R","x":1.416,"y":1.26e-17},{"s":"R","x":1.43,"y":3.7e-18},{"s":"R","x":1.43,"y":4.7e-17},{"s":"R","x":1.44,"y":2e-17},{"s":"R","x":1.457,"y":7.9e-18},{"s":"R","x":1.46,"y":3.6e-17},{"s":"R","x":1.462,"y":1e-17},{"s":"R","x":1.47,"y":4.7e-17},{"s":"R","x":1.516,"y":4.7e-17},{"s":"R","x":1.52,"y":5e-17},{"s":"R","x":1.522,"y":1.6e-17},{"s":"R","x":1.52,"y":1.26e-17},
{"s":"R","x":1.55,"y":3.3e-9},{"s":"R","x":1.563,"y":1.4e-9},{"s":"R","x":1.61,"y":1.15e-9},{"s":"R","x":1.58,"y":1.4e-9},{"s":"R","x":1.59,"y":2.8e-8},{"s":"R","x":1.617,"y":6.8e-8},{"s":"R","x":1.617,"y":2e-8},{"s":"R","x":1.637,"y":1.26e-7},{"s":"R","x":1.65,"y":1.5e-7},{"s":"R","x":1.71,"y":2.5e-9},{"s":"R","x":1.704,"y":4.3e-8},{"s":"R","x":1.738,"y":1.8e-8},{"s":"R","x":1.778,"y":1.26e-7},{"s":"R","x":1.805,"y":4.3e-8},{"s":"R","x":1.825,"y":4e-9},{"s":"R","x":1.861,"y":4e-9},{"s":"R","x":1.831,"y":4.3e-8},{"s":"R","x":1.85,"y":3.5e-8},{"s":"R","x":1.858,"y":7.9e-8},{"s":"R","x":1.865,"y":2.2e-8},{"s":"R","x":1.9,"y":1.5e-7},{"s":"R","x":1.9,"y":3.5e-8},{"s":"R","x":1.925,"y":2.3e-7},{"s":"R","x":1.946,"y":3.5e-8},{"s":"R","x":1.96,"y":2.8e-8},{"s":"R","x":1.965,"y":5.2e-8},{"s":"R","x":2.017,"y":1.05e-8},{"s":"R","x":2.02,"y":2.3e-7},{"s":"R","x":2.05,"y":1.8e-7},{"s":"R","x":2.06,"y":1.9e-7},{"s":"R","x":2.1,"y":3.6e-7},{"s":"R","x":2.113,"y":1.5e-7},{"s":"R","x":2.164,"y":6.6e-8},{"s":"R","x":2.167,"y":7.9e-8},{"s":"R","x":2.16,"y":2.3e-7},{"s":"R","x":2.18,"y":3.6e-7},{"s":"R","x":2.19,"y":5.5e-7},{"s":"R","x":2.207,"y":1.05e-6},{"s":"R","x":1.68,"y":1e-7},{"s":"R","x":1.72,"y":2.5e-7},{"s":"R","x":1.76,"y":6.3e-8},{"s":"R","x":1.8,"y":2e-7},{"s":"R","x":1.88,"y":2.5e-7},{"s":"R","x":1.99,"y":1.26e-7},{"s":"R","x":2.08,"y":1e-7},{"s":"R","x":2.14,"y":1.26e-7},
{"s":"S","x":0.752,"y":4.8e-17},{"s":"S","x":0.866,"y":4e-17},{"s":"S","x":0.88,"y":4e-17},{"s":"S","x":0.906,"y":4e-17},{"s":"S","x":0.933,"y":3.6e-17},{"s":"S","x":0.973,"y":4.5e-17},{"s":"S","x":0.973,"y":3.6e-17},{"s":"S","x":1.007,"y":6.8e-17},{"s":"S","x":1.014,"y":6.3e-17},{"s":"S","x":1.067,"y":6.8e-17},{"s":"S","x":1.074,"y":4.5e-17},{"s":"S","x":1.094,"y":3.6e-17},{"s":"S","x":1.107,"y":4e-17},{"s":"S","x":1.215,"y":3.6e-17},{"s":"S","x":1.248,"y":1.7e-17},{"s":"S","x":1.26,"y":4.5e-17},
{"s":"S","x":1.624,"y":2.8e-10},{"s":"S","x":1.684,"y":8.5e-9},{"s":"S","x":1.905,"y":8.1e-10},{"s":"S","x":1.778,"y":1.5e-8},{"s":"S","x":1.829,"y":2.9e-7},{"s":"S","x":1.831,"y":2.5e-8},{"s":"S","x":1.9,"y":3.6e-7},{"s":"S","x":1.925,"y":3.6e-7},{"s":"S","x":1.946,"y":2.1e-7},{"s":"S","x":1.952,"y":1e-7},{"s":"S","x":1.98,"y":3.6e-7},{"s":"S","x":2.003,"y":4.3e-8},{"s":"S","x":2.02,"y":3.6e-7},{"s":"S","x":2.026,"y":4e-7},{"s":"S","x":2.06,"y":5e-7},{"s":"S","x":2.066,"y":5.2e-8},{"s":"S","x":2.08,"y":1.5e-7},{"s":"S","x":2.097,"y":1.26e-7},{"s":"S","x":2.1,"y":5.5e-7},{"s":"S","x":2.127,"y":5.5e-7},{"s":"S","x":2.146,"y":3.6e-7},{"s":"S","x":2.153,"y":3.2e-7},{"s":"S","x":2.16,"y":4.7e-7},{"s":"S","x":2.173,"y":4e-7},{"s":"S","x":1.845,"y":2.2e-8},
{"s":"K","x":0.075,"y":4.5e-17},{"s":"K","x":0.792,"y":6e-17},{"s":"K","x":0.866,"y":8.5e-17},{"s":"K","x":0.886,"y":3.6e-17},{"s":"K","x":0.893,"y":3.6e-17},{"s":"K","x":0.909,"y":4.1e-17},{"s":"K","x":0.913,"y":3.8e-17},{"s":"K","x":1.175,"y":1.1e-16},{"s":"K","x":1.188,"y":6.8e-17},{"s":"K","x":1.195,"y":1.48e-16},{"s":"K","x":1.2,"y":1.3e-16},{"s":"K","x":1.22,"y":1.26e-16},{"s":"K","x":1.235,"y":1.4e-16},{"s":"K","x":1.245,"y":1.26e-16},{"s":"K","x":1.26,"y":1.48e-16},{"s":"K","x":1.27,"y":1.4e-16},{"s":"K","x":1.28,"y":1.3e-16},{"s":"K","x":1.3,"y":1.38e-16},{"s":"K","x":1.32,"y":1.26e-16},{"s":"K","x":1.326,"y":1.12e-16},{"s":"K","x":1.34,"y":1.17e-16},{"s":"K","x":1.35,"y":1.05e-16},{"s":"K","x":1.36,"y":1.12e-16},{"s":"K","x":1.37,"y":1e-16},{"s":"K","x":1.376,"y":6.8e-17},
{"s":"K","x":1.697,"y":4.7e-8},{"s":"K","x":1.708,"y":6.6e-8},{"s":"K","x":1.758,"y":3e-8},{"s":"K","x":1.767,"y":2e-8},{"s":"K","x":1.738,"y":8.5e-7},{"s":"K","x":1.791,"y":7.9e-7},{"s":"K","x":1.798,"y":8.9e-7},{"s":"K","x":1.704,"y":5.5e-7},{"s":"K","x":1.718,"y":3.6e-7},{"s":"K","x":1.751,"y":4.5e-7},{"s":"K","x":1.778,"y":2.3e-7},{"s":"K","x":1.731,"y":1.9e-7},{"s":"K","x":1.704,"y":1.5e-7},{"s":"K","x":1.751,"y":1.5e-7},{"s":"K","x":1.784,"y":3.6e-7},{"s":"K","x":1.738,"y":7.9e-8},{"s":"K","x":1.718,"y":1e-7},{"s":"K","x":1.695,"y":2.9e-7},{"s":"K","x":1.724,"y":6.8e-7},{"s":"K","x":1.764,"y":6.8e-7},{"s":"K","x":1.805,"y":4.5e-7},{"s":"K","x":1.69,"y":1.9e-7},{"s":"K","x":1.745,"y":3.2e-7},{"s":"K","x":1.77,"y":5e-7},{"s":"K","x":1.73,"y":1.26e-7}
]
},
"vconcat": [
{
  "title": {"text": "Az vs. Z Error"},
  "width": 826, "height": 239,
  "layer": [
    {
      "data": {"name": "az"},
      "mark": {"type": "point", "opacity": 1, "strokeWidth": 1.4},
      "encoding": {
        "x": {"field": "x", "type": "quantitative", "scale": {"domain": [-42300, 1238800], "nice": false, "zero": false}, "axis": {"values": [0, 200000, 400000, 600000, 800000, 1000000, 1200000], "labelExpr": "format(datum.value / 1000000, '.1f')", "title": "Az [km]"}},
        "y": {"field": "y", "type": "quantitative", "scale": {"type": "log", "domain": [3.0e-19, 6.0e-6], "nice": false}, "axis": {"values": [1e-17, 1e-15, 1e-13, 1e-11, 1e-9, 1e-7], "labelExpr": "datum.value < 1e-16 ? '10⁻¹⁷' : datum.value < 1e-14 ? '10⁻¹⁵' : datum.value < 1e-12 ? '10⁻¹³' : datum.value < 1e-10 ? '10⁻¹¹' : datum.value < 1e-8 ? '10⁻⁹' : '10⁻⁷'", "title": "Z Error [ND]"}},
        "fill": {"field": "s", "type": "nominal", "scale": {"domain": ["B", "R", "S", "K"], "range": ["#1f77b4", "#ff0000", "transparent", "transparent"]}, "legend": {"title": null, "labelExpr": "datum.label == 'B' ? 'M1/2' : datum.label == 'R' ? 'M2' : datum.label == 'S' ? 'M1 Re-Evaluated by M2' : 'M1 Discarded by M2'"}},
        "stroke": {"field": "s", "type": "nominal", "scale": {"domain": ["B", "R", "S", "K"], "range": ["#1f77b4", "#ff0000", "#ff0000", "#000000"]}, "legend": {"title": null, "labelExpr": "datum.label == 'B' ? 'M1/2' : datum.label == 'R' ? 'M2' : datum.label == 'S' ? 'M1 Re-Evaluated by M2' : 'M1 Discarded by M2'"}},
        "shape": {"field": "s", "type": "nominal", "scale": {"domain": ["B", "R", "S", "K"], "range": ["circle", "circle", "square", "circle"]}, "legend": {"title": null, "labelExpr": "datum.label == 'B' ? 'M1/2' : datum.label == 'R' ? 'M2' : datum.label == 'S' ? 'M1 Re-Evaluated by M2' : 'M1 Discarded by M2'"}},
        "size": {"field": "s", "type": "nominal", "scale": {"domain": ["B", "R", "S", "K"], "range": [72, 72, 62, 58]}, "legend": {"title": null, "labelExpr": "datum.label == 'B' ? 'M1/2' : datum.label == 'R' ? 'M2' : datum.label == 'S' ? 'M1 Re-Evaluated by M2' : 'M1 Discarded by M2'"}}
      }
    },
    {
      "data": {"values": [{"label": "x1e6"}]},
      "mark": {"type": "text", "align": "right", "baseline": "top", "dy": 25, "fontSize": 15, "font": "Liberation Serif", "color": "#222"},
      "encoding": {
        "x": {"datum": 1238800, "type": "quantitative"},
        "y": {"datum": 3.0e-19, "type": "quantitative"},
        "text": {"value": "×10⁶"}
      }
    }
  ]
},
{
  "title": {"text": "Time vs. Z Error"},
  "width": 826, "height": 239,
  "data": {"name": "t"},
  "mark": {"type": "point", "opacity": 1, "strokeWidth": 1.4},
  "encoding": {
    "x": {"field": "x", "type": "quantitative", "scale": {"domain": [-0.12, 3.204], "nice": false, "zero": false}, "axis": {"values": [0, 0.5, 1, 1.5, 2, 2.5, 3], "format": ".1f", "title": "T [ND]"}},
    "y": {"field": "y", "type": "quantitative", "scale": {"type": "log", "domain": [2.9e-19, 5.75e-6], "nice": false}, "axis": {"values": [1e-17, 1e-15, 1e-13, 1e-11, 1e-9, 1e-7], "labelExpr": "datum.value < 1e-16 ? '10⁻¹⁷' : datum.value < 1e-14 ? '10⁻¹⁵' : datum.value < 1e-12 ? '10⁻¹³' : datum.value < 1e-10 ? '10⁻¹¹' : datum.value < 1e-8 ? '10⁻⁹' : '10⁻⁷'", "title": "Z Error [ND]"}},
    "fill": {"field": "s", "type": "nominal", "scale": {"domain": ["B", "R", "S", "K"], "range": ["#1f77b4", "#ff0000", "transparent", "transparent"]}, "legend": null},
    "stroke": {"field": "s", "type": "nominal", "scale": {"domain": ["B", "R", "S", "K"], "range": ["#1f77b4", "#ff0000", "#ff0000", "#000000"]}, "legend": null},
    "shape": {"field": "s", "type": "nominal", "scale": {"domain": ["B", "R", "S", "K"], "range": ["circle", "circle", "square", "circle"]}, "legend": null},
    "size": {"field": "s", "type": "nominal", "scale": {"domain": ["B", "R", "S", "K"], "range": [72, 72, 62, 58]}, "legend": null}
  }
}
]
}
